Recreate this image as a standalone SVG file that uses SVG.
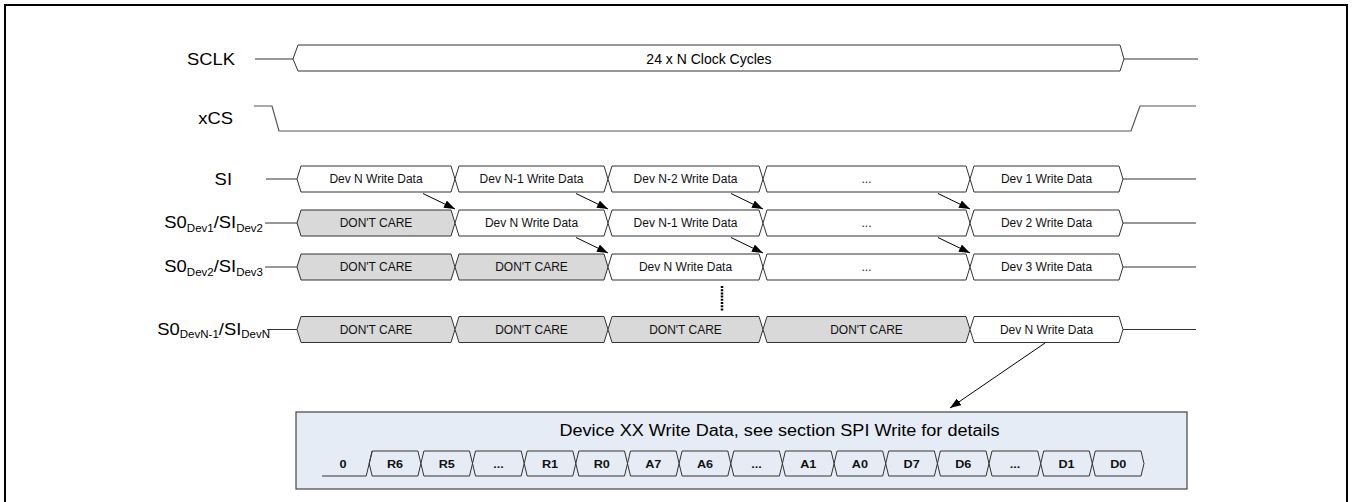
<svg xmlns="http://www.w3.org/2000/svg" width="1352" height="502" viewBox="0 0 1352 502">
<defs>
<style>
.lbl{font-family:"Liberation Sans",Arial,sans-serif;font-size:16px;fill:#000}
.sub{font-size:10px}
.bt{font-family:"Liberation Sans",Arial,sans-serif;font-size:12px;text-anchor:middle;fill:#111}
.bit{font-family:"Liberation Sans",Arial,sans-serif;font-size:11px;font-weight:bold;text-anchor:middle;fill:#111}
.seg{stroke:#333;stroke-width:1;fill:#fff}
.dc{fill:#d9d9d9}
.bseg{stroke:#333;stroke-width:1;fill:none}
.wire{stroke:#333;stroke-width:1;fill:none}
.arr{stroke:#000;stroke-width:1;fill:none;marker-end:url(#ah)}
</style>
<marker id="ah" markerWidth="11" markerHeight="8" refX="11" refY="4" orient="auto" markerUnits="userSpaceOnUse"><path d="M0,0 L11,4 L0,8 Z" fill="#000"/></marker>
</defs>
<rect width="1352" height="502" fill="#fff"/>
<rect id="frame" x="5" y="5" width="1342" height="510" fill="none" stroke="#000" stroke-width="2"/>

<g id="sclk">
<text class="lbl" text-anchor="end" transform="translate(235,64.5) scale(1.15,1)">SCLK</text>
<path class="wire" d="M255,59 H293 M1124,59 H1198"/>
<path class="seg" d="M293,59 L298,45 H1120 L1124,59 L1120,71 H298 Z"/>
<text class="lbl" style="font-size:14px" text-anchor="middle" x="709" y="64">24 x N Clock Cycles</text>
</g>

<g id="xcs">
<text class="lbl" text-anchor="end" transform="translate(233,123.5) scale(1.15,1)">xCS</text>
<path d="M254,106 H272 L279,131 H1131 L1140,106 H1196" fill="none" stroke="#555" stroke-width="1.2"/>
</g>

<g id="si">
<text class="lbl" text-anchor="end" transform="translate(232,184.5) scale(1.15,1)">SI</text>
<path class="wire" d="M266,179 H297 M1123,179 H1196"/>
<path class="seg" d="M297,179 L301,166 H451 L455,179 L451,192 H301 Z"/>
<path class="seg" d="M455,179 L459,166 H604 L608,179 L604,192 H459 Z"/>
<path class="seg" d="M608,179 L612,166 H759 L763,179 L759,192 H612 Z"/>
<path class="seg" d="M763,179 L767,166 H966 L970,179 L966,192 H767 Z"/>
<path class="seg" d="M970,179 L974,166 H1119 L1123,179 L1119,192 H974 Z"/>
<text class="bt" x="376" y="183.2">Dev N Write Data</text>
<text class="bt" x="531.5" y="183.2">Dev N-1 Write Data</text>
<text class="bt" x="685.5" y="183.2">Dev N-2 Write Data</text>
<text class="bt" x="866.5" y="183.2">...</text>
<text class="bt" x="1046.5" y="183.2">Dev 1 Write Data</text>
</g>

<g id="so-dev1">
<text class="lbl" text-anchor="end" transform="translate(263,228) scale(1.15,1)">S0<tspan class="sub" dy="3.5">Dev1</tspan><tspan dy="-3.5">/SI</tspan><tspan class="sub" dy="3.5">Dev2</tspan></text>
<path class="wire" d="M265,223 H297 M1123,223 H1196"/>
<path class="seg dc" d="M297,223 L301,210 H451 L455,223 L451,236 H301 Z"/>
<path class="seg" d="M455,223 L459,210 H604 L608,223 L604,236 H459 Z"/>
<path class="seg" d="M608,223 L612,210 H759 L763,223 L759,236 H612 Z"/>
<path class="seg" d="M763,223 L767,210 H966 L970,223 L966,236 H767 Z"/>
<path class="seg" d="M970,223 L974,210 H1119 L1123,223 L1119,236 H974 Z"/>
<text class="bt" x="376" y="227.2">DON'T CARE</text>
<text class="bt" x="531.5" y="227.2">Dev N Write Data</text>
<text class="bt" x="685.5" y="227.2">Dev N-1 Write Data</text>
<text class="bt" x="866.5" y="227.2">...</text>
<text class="bt" x="1046.5" y="227.2">Dev 2 Write Data</text>
</g>

<g id="so-dev2">
<text class="lbl" text-anchor="end" transform="translate(263,272) scale(1.15,1)">S0<tspan class="sub" dy="3.5">Dev2</tspan><tspan dy="-3.5">/SI</tspan><tspan class="sub" dy="3.5">Dev3</tspan></text>
<path class="wire" d="M265,267 H297 M1123,267 H1196"/>
<path class="seg dc" d="M297,267 L301,254 H451 L455,267 L451,280 H301 Z"/>
<path class="seg dc" d="M455,267 L459,254 H604 L608,267 L604,280 H459 Z"/>
<path class="seg" d="M608,267 L612,254 H759 L763,267 L759,280 H612 Z"/>
<path class="seg" d="M763,267 L767,254 H966 L970,267 L966,280 H767 Z"/>
<path class="seg" d="M970,267 L974,254 H1119 L1123,267 L1119,280 H974 Z"/>
<text class="bt" x="376" y="271.2">DON'T CARE</text>
<text class="bt" x="531.5" y="271.2">DON'T CARE</text>
<text class="bt" x="685.5" y="271.2">Dev N Write Data</text>
<text class="bt" x="866.5" y="271.2">...</text>
<text class="bt" x="1046.5" y="271.2">Dev 3 Write Data</text>
</g>

<g id="ellipsis">
<path d="M722,286 V311" stroke="#000" stroke-width="2.5" stroke-dasharray="2 1.2" fill="none"/>
</g>

<g id="so-devn1">
<text class="lbl" text-anchor="end" transform="translate(270,335) scale(1.15,1)">S0<tspan class="sub" dy="3">DevN-1</tspan><tspan dy="-3">/SI</tspan><tspan class="sub" dy="3">DevN</tspan></text>
<path class="wire" d="M267,329.5 H297 M1123,329.5 H1196"/>
<path class="seg dc" d="M297,329.5 L301,316.5 H451 L455,329.5 L451,342.5 H301 Z"/>
<path class="seg dc" d="M455,329.5 L459,316.5 H604 L608,329.5 L604,342.5 H459 Z"/>
<path class="seg dc" d="M608,329.5 L612,316.5 H759 L763,329.5 L759,342.5 H612 Z"/>
<path class="seg dc" d="M763,329.5 L767,316.5 H966 L970,329.5 L966,342.5 H767 Z"/>
<path class="seg" d="M970,329.5 L974,316.5 H1119 L1123,329.5 L1119,342.5 H974 Z"/>
<text class="bt" x="376" y="333.7">DON'T CARE</text>
<text class="bt" x="531.5" y="333.7">DON'T CARE</text>
<text class="bt" x="685.5" y="333.7">DON'T CARE</text>
<text class="bt" x="866.5" y="333.7">DON'T CARE</text>
<text class="bt" x="1046.5" y="333.7">Dev N Write Data</text>
</g>

<g id="detail-box">
<rect x="296" y="412" width="891" height="77" fill="#e6ecf5" stroke="#444" stroke-width="1.2"/>
<text class="lbl" text-anchor="middle" transform="translate(779.5,436) scale(1.13,1)">Device XX Write Data, see section SPI Write for details</text>
<path class="wire" d="M322,476 H366.2 L372.2,451"/>
<text class="bit" transform="translate(343,467.5) scale(1.15,1)">0</text>
<path class="bseg" d="M369.2,463.5 L372.2,451 H417.9 L420.9,463.5 L417.9,476 H372.2 Z"/>
<path class="bseg" d="M420.9,463.5 L423.9,451 H469.5 L472.5,463.5 L469.5,476 H423.9 Z"/>
<path class="bseg" d="M472.5,463.5 L475.5,451 H521.2 L524.2,463.5 L521.2,476 H475.5 Z"/>
<path class="bseg" d="M524.2,463.5 L527.2,451 H572.8 L575.8,463.5 L572.8,476 H527.2 Z"/>
<path class="bseg" d="M575.8,463.5 L578.8,451 H624.5 L627.5,463.5 L624.5,476 H578.8 Z"/>
<path class="bseg" d="M627.5,463.5 L630.5,451 H676.1 L679.1,463.5 L676.1,476 H630.5 Z"/>
<path class="bseg" d="M679.1,463.5 L682.1,451 H727.8 L730.8,463.5 L727.8,476 H682.1 Z"/>
<path class="bseg" d="M730.8,463.5 L733.8,451 H779.4 L782.4,463.5 L779.4,476 H733.8 Z"/>
<path class="bseg" d="M782.4,463.5 L785.4,451 H831.1 L834.1,463.5 L831.1,476 H785.4 Z"/>
<path class="bseg" d="M834.1,463.5 L837.1,451 H882.7 L885.7,463.5 L882.7,476 H837.1 Z"/>
<path class="bseg" d="M885.7,463.5 L888.7,451 H934.4 L937.4,463.5 L934.4,476 H888.7 Z"/>
<path class="bseg" d="M937.4,463.5 L940.4,451 H986 L989,463.5 L986,476 H940.4 Z"/>
<path class="bseg" d="M989,463.5 L992,451 H1037.7 L1040.7,463.5 L1037.7,476 H992 Z"/>
<path class="bseg" d="M1040.7,463.5 L1043.7,451 H1089.3 L1092.3,463.5 L1089.3,476 H1043.7 Z"/>
<path class="bseg" d="M1092.3,463.5 L1095.3,451 H1141 L1144,463.5 L1141,476 H1095.3 Z"/>
<text class="bit" transform="translate(395,467.5) scale(1.15,1)">R6</text>
<text class="bit" transform="translate(446.7,467.5) scale(1.15,1)">R5</text>
<text class="bit" transform="translate(498.4,467.5) scale(1.15,1)">...</text>
<text class="bit" transform="translate(550,467.5) scale(1.15,1)">R1</text>
<text class="bit" transform="translate(601.7,467.5) scale(1.15,1)">R0</text>
<text class="bit" transform="translate(653.3,467.5) scale(1.15,1)">A7</text>
<text class="bit" transform="translate(705,467.5) scale(1.15,1)">A6</text>
<text class="bit" transform="translate(756.6,467.5) scale(1.15,1)">...</text>
<text class="bit" transform="translate(808.3,467.5) scale(1.15,1)">A1</text>
<text class="bit" transform="translate(859.9,467.5) scale(1.15,1)">A0</text>
<text class="bit" transform="translate(911.6,467.5) scale(1.15,1)">D7</text>
<text class="bit" transform="translate(963.2,467.5) scale(1.15,1)">D6</text>
<text class="bit" transform="translate(1014.9,467.5) scale(1.15,1)">...</text>
<text class="bit" transform="translate(1066.5,467.5) scale(1.15,1)">D1</text>
<text class="bit" transform="translate(1118.2,467.5) scale(1.15,1)">D0</text>
</g>

<g id="connectors">
<path class="arr" d="M423,193.5 L455,209"/>
<path class="arr" d="M576,193.5 L608,209"/>
<path class="arr" d="M731,193.5 L763,209"/>
<path class="arr" d="M938,193.5 L970,209"/>
<path class="arr" d="M576,237.5 L608,253"/>
<path class="arr" d="M731,237.5 L763,253"/>
<path class="arr" d="M938,237.5 L970,253"/>
<path class="arr" d="M1045,343 L950,408"/>
</g>
</svg>
